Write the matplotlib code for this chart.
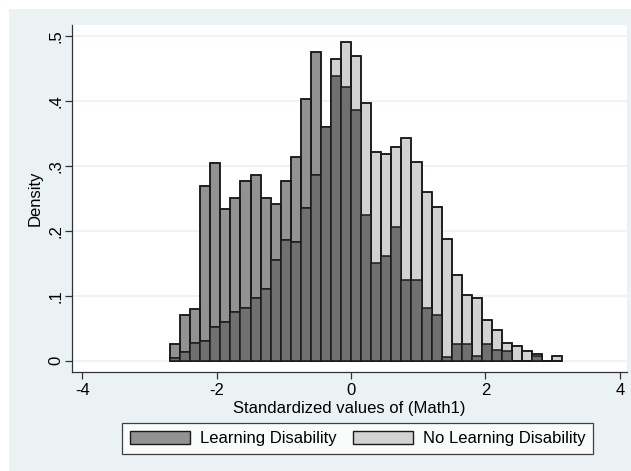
import numpy as np
import matplotlib
matplotlib.use("Agg")
import matplotlib.pyplot as plt
from matplotlib.patches import Patch, Rectangle

plt.rcParams['font.family'] = ['Liberation Sans', 'DejaVu Sans']

# ---- data ----
bin_start = -2.693
bin_width = 0.1497
ld_density = [0.026, 0.070, 0.079, 0.268, 0.304, 0.233, 0.250, 0.277, 0.286, 0.250,
              0.241, 0.277, 0.313, 0.403, 0.475,
              0.359, 0.438, 0.421, 0.386, 0.224, 0.151, 0.161, 0.205, 0.124, 0.124,
              0.081, 0.070, 0.006, 0.026, 0.026, 0.007, 0.026, 0.016, 0.015, 0.0,
              0.0, 0.008, 0.0, 0.0]
nold_density = [0.004, 0.013, 0.028, 0.031, 0.052, 0.060, 0.075, 0.081, 0.096, 0.111,
                0.155, 0.186, 0.182, 0.235, 0.285,
                0.359, 0.464, 0.491, 0.469, 0.396, 0.321, 0.318, 0.329, 0.342, 0.305,
                0.259, 0.236, 0.187, 0.132, 0.101, 0.096, 0.062, 0.048, 0.028, 0.023,
                0.015, 0.010, 0.0, 0.008]
series_labels = ["Learning Disability", "No Learning Disability"]
x_ticks = [-4, -2, 0, 2, 4]
y_ticks = [0, 0.1, 0.2, 0.3, 0.4, 0.5]
y_ticklabels = ["0", ".1", ".2", ".3", ".4", ".5"]

ld = np.array(ld_density)
nold = np.array(nold_density)
edges = bin_start + bin_width * np.arange(len(ld))

W, H = 631, 471
FS = 12
fig = plt.figure(figsize=(W / 100, H / 100), dpi=100)
fig.patch.set_facecolor('white')
bg = '#eaf2f3'
fig.add_artist(Rectangle((9 / W, 0), 1 - 9 / W, 1 - 9 / H, transform=fig.transFigure,
                         facecolor=bg, edgecolor='none', zorder=-10))

ax = fig.add_axes([72 / W, (H - 372) / H, (627 - 72) / W, (372 - 25) / H])
ax.set_facecolor('white')

c_ld = '#929292'
c_nold = '#d2d2d2'
c_both = '#707070'
ek = dict(edgecolor='#1a1a1a', linewidth=1.1, align='edge', width=bin_width)
ax.bar(edges, ld, color=c_ld, zorder=3, **ek)
ax.bar(edges, nold, color=c_nold, zorder=3, **ek)
ax.bar(edges, np.maximum(ld, nold), color='none', zorder=3, **ek)
ax.bar(edges, np.minimum(ld, nold), color=c_both, zorder=4, **ek)

ax.set_xlim((72 - 351) / 67.2, (627 - 351) / 67.2)
ax.set_ylim((360.7 - 372) / 650, (360.7 - 25) / 650)

ax.set_yticks(y_ticks)
ax.set_yticklabels(y_ticklabels, rotation=90, va='center', fontsize=FS)
ax.set_xticks(x_ticks)
ax.set_xticklabels([str(t) for t in x_ticks], fontsize=FS)
ax.tick_params(axis='both', direction='out', length=5, width=0.9, color='#333333')
ax.tick_params(axis='y', pad=1)
ax.tick_params(axis='x', pad=3)
ax.grid(axis='y', color=bg, linewidth=1.2, zorder=0)
ax.set_axisbelow(True)

for s in ['top', 'right']:
    ax.spines[s].set_visible(False)
for s in ['left', 'bottom']:
    ax.spines[s].set_color('#333333')
    ax.spines[s].set_linewidth(0.9)

ax.set_ylabel('Density', fontsize=FS, labelpad=4)
ax.set_xlabel('Standardized values of (Math1)', fontsize=FS, labelpad=2)

handles = [Patch(facecolor=c_ld, edgecolor='#1a1a1a', linewidth=1.0),
           Patch(facecolor=c_nold, edgecolor='#1a1a1a', linewidth=1.0)]
leg = fig.legend(handles, series_labels, loc='center', ncol=2,
                 bbox_to_anchor=(357.5 / W, 1 - 438.5 / H), bbox_transform=fig.transFigure,
                 fontsize=FS, handlelength=3.6, handleheight=0.85, handletextpad=0.6,
                 columnspacing=1.0, frameon=True, fancybox=False, borderpad=0.45)
leg.get_frame().set_edgecolor('#111111')
leg.get_frame().set_linewidth(0.9)
leg.get_frame().set_facecolor('white')

fig.savefig('out.png', dpi=100, facecolor=fig.get_facecolor())
